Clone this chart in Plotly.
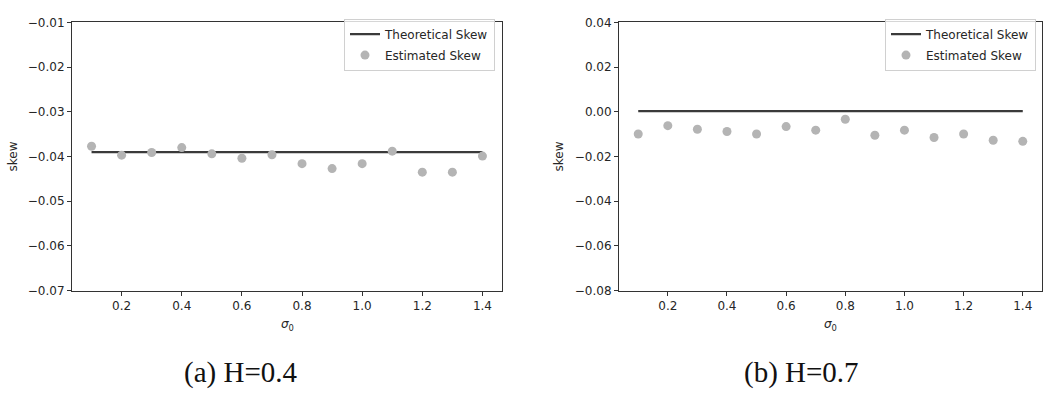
import plotly.graph_objects as go

W, H = 1059, 396

sigma0 = [0.1, 0.2, 0.3, 0.4, 0.5, 0.6, 0.7, 0.8, 0.9, 1.0, 1.1, 1.2, 1.3, 1.4]
est_skew_a = [-0.0377, -0.0397, -0.0391, -0.0380, -0.0394, -0.0404, -0.0396,
              -0.0416, -0.0427, -0.0416, -0.0388, -0.0435, -0.0435, -0.0399]
theo_skew_a = -0.0390
est_skew_b = [-0.0099, -0.0062, -0.0078, -0.0088, -0.0099, -0.0066, -0.0082,
              -0.0033, -0.0105, -0.0082, -0.0115, -0.0099, -0.0127, -0.0132]
theo_skew_b = 0.0003

xticks = [0.2, 0.4, 0.6, 0.8, 1.0, 1.2, 1.4]
xticklabels = ["0.2", "0.4", "0.6", "0.8", "1.0", "1.2", "1.4"]
yticks_a = [-0.07, -0.06, -0.05, -0.04, -0.03, -0.02, -0.01]
yticklabels_a = ["\u22120.07", "\u22120.06", "\u22120.05", "\u22120.04", "\u22120.03", "\u22120.02", "\u22120.01"]
yticks_b = [-0.08, -0.06, -0.04, -0.02, 0.00, 0.02, 0.04]
yticklabels_b = ["\u22120.08", "\u22120.06", "\u22120.04", "\u22120.02", "0.00", "0.02", "0.04"]
captions = ["(a) H=0.4", "(b) H=0.7"]

LINE_C = "#3a3a3a"
PT_C = "#b4b4b4"
AX_C = "#333333"
TXT_C = "#262626"

fig = go.Figure()

# pixel geometry
axes_px = [(72, 502), (619, 1042)]
top_px, bot_px = 16, 294

def px_x(p):
    return p / W

def px_y(p):
    return 1 - p / H

panels = [
    (est_skew_a, theo_skew_a, yticks_a, yticklabels_a, [-0.07, -0.01]),
    (est_skew_b, theo_skew_b, yticks_b, yticklabels_b, [-0.08, 0.04]),
]

for i, (est, theo, yt, ytl, yr) in enumerate(panels):
    xa = "x" if i == 0 else "x2"
    ya = "y" if i == 0 else "y2"
    lg = "legend" if i == 0 else "legend2"
    fig.add_trace(go.Scatter(
        x=[sigma0[0], sigma0[-1]], y=[theo, theo], mode="lines",
        line=dict(color=LINE_C, width=2.2), name="Theoretical Skew",
        xaxis=xa, yaxis=ya, legend=lg, legendgroup=f"t{i}", showlegend=True))
    fig.add_trace(go.Scatter(
        x=sigma0, y=est, mode="markers",
        marker=dict(color=PT_C, size=9, line=dict(width=0)),
        name="Estimated Skew", xaxis=xa, yaxis=ya, legend=lg,
        legendgroup=f"e{i}", showlegend=True))

axis_common = dict(
    showline=True, mirror=True, linecolor=AX_C, linewidth=1,
    ticks="outside", ticklen=4, tickwidth=1, tickcolor=AX_C,
    showgrid=False, zeroline=False,
    tickfont=dict(family="DejaVu Sans", size=12, color=TXT_C),
)

for i, (est, theo, yt, ytl, yr) in enumerate(panels):
    l, r = axes_px[i]
    xkey = "xaxis" if i == 0 else "xaxis2"
    ykey = "yaxis" if i == 0 else "yaxis2"
    fig.update_layout(**{
        xkey: dict(axis_common, domain=[px_x(l), px_x(r)], range=[0.035, 1.465],
                   tickvals=xticks, ticktext=xticklabels,
                   anchor="y" if i == 0 else "y2"),
        ykey: dict(axis_common, domain=[px_y(bot_px), px_y(top_px)], range=yr,
                   tickvals=yt, ticktext=ytl,
                   anchor="x" if i == 0 else "x2"),
    })

legend_common = dict(
    bgcolor="rgba(255,255,255,0.8)", bordercolor="#d0d0d0", borderwidth=1,
    font=dict(family="DejaVu Sans", size=12, color=TXT_C),
    xanchor="right", yanchor="top", itemwidth=30, tracegroupgap=2,
)
fig.update_layout(
    legend=dict(legend_common, x=px_x(495), y=px_y(12)),
    legend2=dict(legend_common, x=px_x(1036), y=px_y(12)),
)

annotations = []
ylabel_x = [13, 559]
cap_x = [240, 801]
for i in range(2):
    l, r = axes_px[i]
    annotations.append(dict(
        text="skew", x=px_x(ylabel_x[i]), y=px_y((top_px + bot_px) / 2),
        xref="paper", yref="paper", showarrow=False, textangle=-90,
        font=dict(family="DejaVu Sans", size=12, color=TXT_C),
        xanchor="center", yanchor="middle"))
    annotations.append(dict(
        text="<i>\u03c3</i><sub>0</sub>", x=px_x((l + r) / 2), y=px_y(330),
        xref="paper", yref="paper", showarrow=False,
        font=dict(family="DejaVu Sans", size=12, color=TXT_C),
        xanchor="center", yanchor="middle"))
    annotations.append(dict(
        text=captions[i], x=px_x(cap_x[i]), y=px_y(379),
        xref="paper", yref="paper", showarrow=False,
        font=dict(family="Liberation Serif", size=29, color="#111111"),
        xanchor="center", yanchor="middle"))

fig.update_layout(
    width=W, height=H, margin=dict(l=0, r=0, t=0, b=0),
    paper_bgcolor="white", plot_bgcolor="white",
    annotations=annotations, showlegend=True,
)

fig.write_html(
    "out.html",
    config={"displayModeBar": False},
    post_script="document.body.style.margin='0';document.body.style.overflow='hidden';",
)
